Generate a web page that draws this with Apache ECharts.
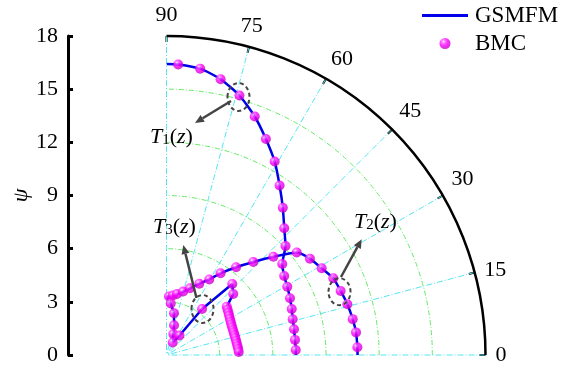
<!DOCTYPE html>
<html><head><meta charset="utf-8">
<script src="https://cdn.jsdelivr.net/npm/echarts@6/dist/echarts.min.js"></script>
<style>html,body{margin:0;padding:0;background:#fff}#c{width:570px;height:369px}</style>
</head><body><div id="c"></div>
<script>
// ---- data (psi = radius, theta = angle in degrees) ----
const angleTicks = [0, 15, 30, 45, 60, 75, 90];
const psiTicks = [0, 3, 6, 9, 12, 15, 18];

// T1(z) branch, BMC points
const t1Theta = [87.7, 83.3, 78.9, 74.3, 69.7, 65.3, 60.8, 56.3, 51.7, 47.1, 42.5, 38.2, 33.9, 29.5, 24.7, 20.2, 15.8, 11.4, 6.7, 2.2];
const t1Psi   = [16.41, 16.27, 15.86, 15.21, 14.35, 13.42, 12.51, 11.50, 10.59, 9.76, 9.11, 8.31, 8.00, 7.83, 7.67, 7.53, 7.40, 7.34, 7.30, 7.30];
// T2(z) branch
const t2Theta = [87.6, 84.0, 80.2, 75.3, 70.6, 65.3, 60.5, 56.5, 51.6, 47.0, 42.6, 38.2, 33.9, 29.2, 24.7, 20.2, 15.7, 10.9, 6.8, 2.3];
const t2Psi   = [3.31, 3.38, 3.49, 3.70, 3.99, 4.43, 4.90, 5.53, 6.32, 7.18, 8.19, 9.35, 9.75, 10.03, 10.36, 10.47, 10.60, 10.70, 10.77, 10.78];
// T3(z) branch
const t3Theta = [85.3, 79.8, 75.8, 71.9, 63.6, 56.3, 52.3, 47.2, 42.4, 38.7, 36.5, 34.2, 32.0, 29.7, 27.4, 25.2, 22.9, 20.6, 18.4, 16.1, 13.9, 11.6, 9.3, 7.0, 4.7, 2.4];
const t3Psi   = [2.92, 2.39, 1.73, 1.24, 0.79, 1.32, 3.28, 5.46, 5.10, 4.36, 4.29, 4.23, 4.17, 4.12, 4.08, 4.05, 4.02, 4.01, 4.00, 4.00, 4.00, 4.01, 4.02, 4.04, 4.06, 4.08];
// GSMFM curve end values at theta = 90 and theta = 0
const endTheta = [90, 0];
const t1EndPsi = [16.42, 7.30];
const t2EndPsi = [3.35, 10.78];
const t3EndPsi = [3.35, 4.09];

// ---- build ----
const FONT = 'Liberation Serif';
const pts = (ps, th) => ps.map((p, i) => [p, th[i]]);
const linePts = (ps, th, ends) => [[ends[0], endTheta[0]], ...pts(ps, th), [ends[1], endTheta[1]]];

const blue = '#0000e8';
const dotColor = {type: 'radial', x: 0.36, y: 0.32, r: 0.7,
  colorStops: [{offset: 0, color: '#fff2ff'}, {offset: 0.18, color: '#ff70ff'}, {offset: 0.5, color: '#ff00ff'}, {offset: 1, color: '#c400c4'}]};

function lineSeries(data, smooth) {
  return {type: 'line', name: 'GSMFM', coordinateSystem: 'polar', data, symbol: 'none', smooth,
    lineStyle: {color: blue, width: 2.5}, itemStyle: {color: blue}, z: 3};
}
function dotSeries(data) {
  return {type: 'scatter', name: 'BMC', coordinateSystem: 'polar', data, symbol: 'circle', symbolSize: 10,
    itemStyle: {color: dotColor}, z: 5};
}

function arrow(x1, y1, x2, y2) {
  const L = 9, W = 8;
  const dx = x2 - x1, dy = y2 - y1, len = Math.hypot(dx, dy);
  const ux = dx / len, uy = dy / len, nx = -uy, ny = ux;
  const bx = x2 - ux * L, by = y2 - uy * L;
  return [
    {type: 'line', shape: {x1, y1, x2: bx, y2: by}, style: {stroke: '#444', lineWidth: 2.5}, z: 10},
    {type: 'polygon', shape: {points: [[x2, y2], [bx + nx * W / 2, by + ny * W / 2], [bx - nx * W / 2, by - ny * W / 2]]},
      style: {fill: '#444'}, z: 10}
  ];
}
function ring(cx, cy, rx, ry) {
  return {type: 'ellipse', shape: {cx, cy, rx, ry}, style: {stroke: '#444', fill: null, lineWidth: 2, lineDash: [4, 3]}, z: 10};
}
function tLabel(sub, x, y) {
  return {type: 'text', x, y, z: 10, style: {
    text: '{i|T}{s|' + sub + '}{n|(}{i|z}{n|)}', verticalAlign: 'middle', fill: '#000',
    rich: {
      i: {fontFamily: FONT, fontStyle: 'italic', fontSize: 22, fill: '#000'},
      n: {fontFamily: FONT, fontSize: 22, fill: '#000'},
      s: {fontFamily: FONT, fontSize: 15, lineHeight: 10, verticalAlign: 'bottom', fill: '#000'}
    }}};
}

const chart = echarts.init(document.getElementById('c'), null, {renderer: 'canvas'});
chart.setOption({
  animation: false,
  backgroundColor: '#fff',
  polar: {center: [166.5, 355], radius: 319},
  angleAxis: {type: 'value', min: angleTicks[0], max: angleTicks[angleTicks.length - 1], interval: 15,
    startAngle: 0, endAngle: 90, clockwise: false,
    axisLine: {show: true, lineStyle: {color: '#000', width: 2.5}},
    axisTick: {show: true, inside: true, length: 6, lineStyle: {color: '#000', width: 2}},
    axisLabel: {fontFamily: FONT, fontSize: 22, color: '#000', margin: 10},
    splitLine: {show: true, lineStyle: {color: '#55e6f2', width: 1, type: [6, 2, 1, 2]}}},
  radiusAxis: {type: 'value', min: psiTicks[0], max: psiTicks[psiTicks.length - 1], interval: 3,
    axisLine: {show: false}, axisTick: {show: false}, axisLabel: {show: false},
    splitLine: {show: true, lineStyle: {color: '#66ea66', width: 1, type: [5, 2, 1, 2]}}},
  grid: {left: 68, top: 36, width: 10, height: 319},
  xAxis: {type: 'value', show: false, min: 0, max: 1},
  yAxis: {type: 'value', min: psiTicks[0], max: psiTicks[psiTicks.length - 1], interval: 3, position: 'left',
    axisLine: {show: true, lineStyle: {color: '#000', width: 3}},
    axisTick: {show: true, inside: true, length: 5, lineStyle: {color: '#000', width: 3}},
    axisLabel: {fontFamily: FONT, fontSize: 22, color: '#000', margin: 10},
    splitLine: {show: false},
    name: 'ψ', nameLocation: 'middle', nameGap: 36,
    nameTextStyle: {fontFamily: FONT, fontStyle: 'italic', fontSize: 22, color: '#000'}},
  legend: {left: 417, top: -1, orient: 'vertical', itemWidth: 46, itemHeight: 11, itemGap: 5,
    textStyle: {fontFamily: FONT, fontSize: 23, color: '#000', padding: [0, 0, 0, 2]},
    data: [{name: 'GSMFM', icon: 'path://M0,0 L46,0 L46,3 L0,3 Z', itemStyle: {color: blue}}, {name: 'BMC'}]},
  series: [
    lineSeries(linePts(t1Psi, t1Theta, t1EndPsi), 0.2),
    lineSeries(linePts(t2Psi, t2Theta, t2EndPsi), 0.2),
    lineSeries(linePts(t3Psi, t3Theta, t3EndPsi), false),
    dotSeries(pts(t1Psi, t1Theta)),
    dotSeries(pts(t2Psi, t2Theta)),
    dotSeries(pts(t3Psi, t3Theta))
  ],
  graphic: [
    ring(238.5, 97, 11, 14), ...arrow(231, 101, 195, 123), tLabel('1', 150, 137),
    ring(202.5, 309, 11, 14), ...arrow(196.5, 298, 183.3, 245), tLabel('3', 153, 227),
    ring(339.5, 291.7, 11, 13.5), ...arrow(341, 277, 361.7, 239.3), tLabel('2', 354, 222)
  ]
});
</script></body></html>
